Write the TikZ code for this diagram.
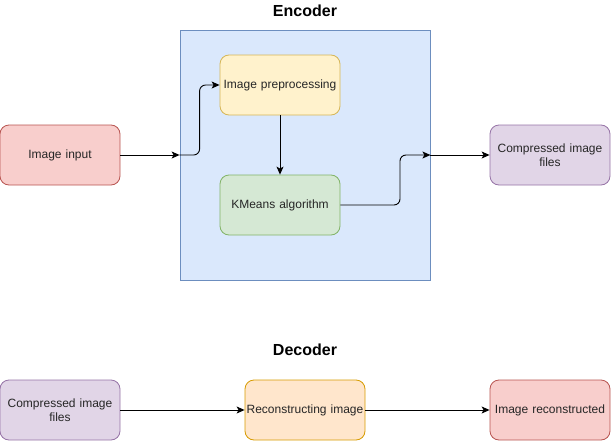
\documentclass[tikz,border=0pt]{standalone}
\usepackage{fontspec}
\setmainfont{Liberation Sans}
\usetikzlibrary{arrows.meta}
\definecolor{redF}{HTML}{F8CECC}\definecolor{redD}{HTML}{B85450}
\definecolor{yelF}{HTML}{FFF2CC}\definecolor{yelD}{HTML}{D6B656}
\definecolor{grnF}{HTML}{D5E8D4}\definecolor{grnD}{HTML}{82B366}
\definecolor{purF}{HTML}{E1D5E7}\definecolor{purD}{HTML}{9673A6}
\definecolor{bluF}{HTML}{DAE8FC}\definecolor{bluD}{HTML}{6C8EBF}
\definecolor{orgF}{HTML}{FFE6CC}\definecolor{orgD}{HTML}{D79B00}
\tikzset{
  box/.style={rectangle, rounded corners=9pt, minimum width=120pt, minimum height=60pt,
    inner sep=0pt, line width=0.8pt, align=center, text width=114pt,
    font=\fontsize{12pt}{14pt}\selectfont, text=black!85},
  title/.style={font=\fontsize{16pt}{18pt}\selectfont\bfseries},
  conn/.style={line width=0.9pt, -{Stealth[length=8pt,width=7pt,inset=2pt]}},
}
\begin{document}
\begin{tikzpicture}[x=1pt,y=-1pt]
\useasboundingbox (0,0) rectangle (611,442);
% encoder container
\node[rectangle, draw=bluD, fill=bluF, line width=0.8pt, minimum width=250pt, minimum height=250pt, inner sep=0pt] (enc) at (305,155) {};
\node[title] (enctitle) at (305,11) {Encoder};
\node[title] (dectitle) at (305,350) {Decoder};
% top nodes
\node[box, draw=redD, fill=redF] (input) at (60,155) {Image input};
\node[box, draw=yelD, fill=yelF] (pre) at (280,85) {Image preprocessing};
\node[box, draw=grnD, fill=grnF] (km) at (280,205) {KMeans algorithm};
\node[box, draw=purD, fill=purF] (comp1) at (550,155) {Compressed image\\files};
% bottom nodes
\node[box, draw=purD, fill=purF] (comp2) at (60,410) {Compressed image\\files};
\node[box, draw=orgD, fill=orgF] (rec) at (305,410) {\makebox[0pt][c]{Reconstructing image}};
\node[box, draw=redD, fill=redF] (out) at (550,410) {\makebox[0pt][c]{Image reconstructed}};
% connectors
\draw[conn] (input.east) -- (enc.west);
\draw[conn, rounded corners=6pt] (enc.west) -- ++(20,0) |- (pre.west);
\draw[conn] (pre.south) -- (km.north);
\draw[conn, rounded corners=6pt] (km.east) -- (400,205) |- (enc.east);
\draw[conn] (enc.east) -- (comp1.west);
\draw[conn] (comp2.east) -- (rec.west);
\draw[conn] (rec.east) -- (out.west);
\end{tikzpicture}
\end{document}
